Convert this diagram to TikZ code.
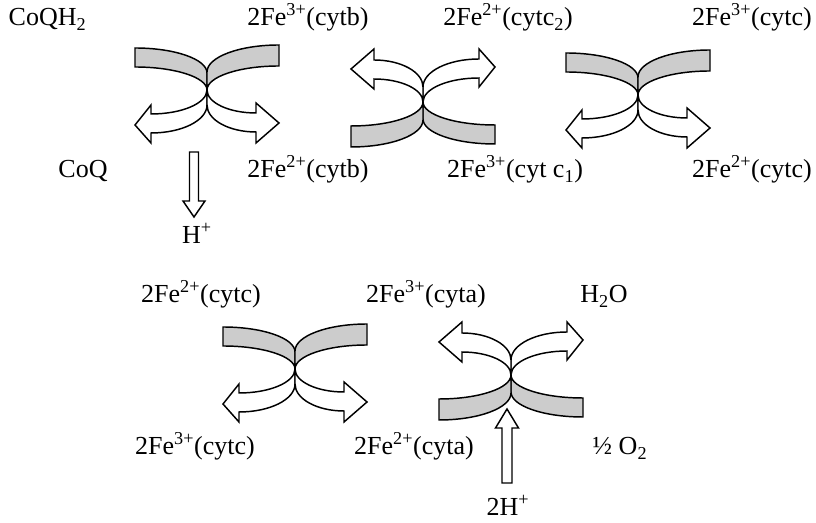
\documentclass[tikz,border=0pt]{standalone}
\usepackage{fontspec}
\setmainfont{Liberation Serif}
\begin{document}
\begin{tikzpicture}[x=0.75pt, y=0.75pt, line width=1.1pt,
    every node/.style={font=\fontsize{19.5}{23}\selectfont, inner sep=0pt, anchor=base},
    band/.style={draw, fill=black!20},
    hollow/.style={draw, fill=white},
    exchange/.pic={
      % hai nửa dải màu xám
      \path[band] (0,0) -- (0,17) arc[start angle=0, end angle=90, x radius=72, y radius=25]
        -- (-72,23) arc[start angle=90, end angle=0, x radius=72, y radius=23] -- cycle;
      \path[band] (0,0) -- (0,18) arc[start angle=180, end angle=90, x radius=72, y radius=27]
        -- (72,24) arc[start angle=90, end angle=180, x radius=72, y radius=24] -- cycle;
      % hai mũi tên trắng
      \path[hollow] (0,0) arc[start angle=0, end angle=-90, x radius=56, y radius=24]
        -- (-56,-15) -- (-72,-35) -- (-56,-53) -- (-56,-43)
        arc[start angle=-90, end angle=0, x radius=56, y radius=28] -- cycle;
      \path[hollow] (0,0) arc[start angle=180, end angle=270, x radius=49, y radius=23]
        -- (49,-13) -- (72,-33) -- (49,-53) -- (49,-42)
        arc[start angle=270, end angle=180, x radius=49, y radius=27] -- cycle;
    }]
    \useasboundingbox (0,0) rectangle (816,523);

    % Các cặp trao đổi electron
    \pic at (207,433) {exchange};
    \pic[rotate=180] at (423,421) {exchange};
    \pic at (638,428) {exchange};
    \pic at (295,154) {exchange};
    \pic[rotate=180] at (511,148) {exchange};

    % Nhãn hàng trên
    \node[anchor=base west] (coqh2) at (8,497) {CoQH\textsubscript{2}};
    \node (fe3b) at (308,497) {2Fe\textsuperscript{3+}(cytb)};
    \node (fe2c2) at (508,497) {2Fe\textsuperscript{2+}(cytc\textsubscript{2})};
    \node (fe3c) at (752,497) {2Fe\textsuperscript{3+}(cytc)};
    \node (coq) at (83,345) {CoQ};
    \node (fe2b) at (308,345) {2Fe\textsuperscript{2+}(cytb)};
    \node (fe3c1) at (515,345) {2Fe\textsuperscript{3+}(cyt c\textsubscript{1})};
    \node (fe2c) at (752,345) {2Fe\textsuperscript{2+}(cytc)};

    % Mũi tên H+ đi ra
    \node (hplus) at (197,279) {H\textsuperscript{+}};
    \coordinate (hdn) at (194,371);
    \path[hollow] (hdn) ++(-4.5,0) -- ++(0,-49) -- ++(-6.5,0) -- ++(11,-16)
        -- ++(11,16) -- ++(-6.5,0) -- ++(0,49) -- cycle;

    % Nhãn hàng dưới
    \node (fe2cl) at (201,220) {2Fe\textsuperscript{2+}(cytc)};
    \node (fe3a) at (426,220) {2Fe\textsuperscript{3+}(cyta)};
    \node (water) at (604,220) {H\textsubscript{2}O};
    \node (fe3cl) at (195,68) {2Fe\textsuperscript{3+}(cytc)};
    \node (fe2a) at (414,68) {2Fe\textsuperscript{2+}(cyta)};
    \node (oxy) at (620,68) {½ O\textsubscript{2}};

    % Mũi tên 2H+ đi vào
    \node (twoh) at (508,7) {2H\textsuperscript{+}};
    \coordinate (hup) at (507,40);
    \path[hollow] (hup) ++(-5,0) -- ++(0,55) -- ++(-6.5,0) -- ++(11.5,19)
        -- ++(11.5,-19) -- ++(-6.5,0) -- ++(0,-55) -- cycle;

\end{tikzpicture}
\end{document}
